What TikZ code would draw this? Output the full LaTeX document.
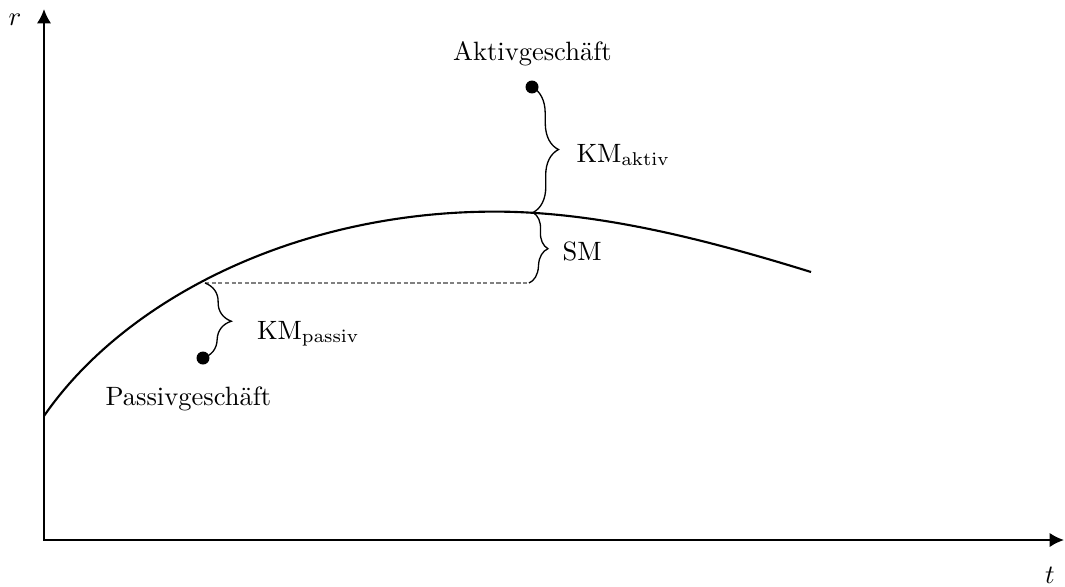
\documentclass[tikz,border=0pt]{standalone}
\usetikzlibrary{arrows.meta,decorations.pathreplacing}
\begin{document}
\begin{tikzpicture}[x=0.3774pt,y=-0.3774pt,
  axis/.style={line width=0.8pt,{Latex[length=5.4pt,width=5.4pt]}-{Latex[length=5.4pt,width=5.4pt]}},
  curvestyle/.style={line width=0.8pt},
  bracestyle/.style={decorate,decoration={brace,amplitude=#1},line width=0.5pt},
  dashline/.style={dashed,dash pattern=on 1.6pt off 0.9pt,line width=0.4pt,gray},
  dot/.style={circle,fill=black,inner sep=0pt,minimum size=4.9pt},
  lbl/.style={inner sep=0pt,font=\fontsize{10}{12}\selectfont}]
\useasboundingbox (0,0) rectangle (1065,586);
% axes
\coordinate (O) at (44,540);
\coordinate (ytip) at (44,9);
\coordinate (xtip) at (1064,540);
\draw[axis] (ytip) -- (O) -- (xtip);
\node[lbl] (r) at (15,20) {$r$};
\node[lbl] (t) at (1050,575) {$t$};
% curve
\coordinate (c0) at (44,416);
\coordinate (peak) at (495,211.6);
\coordinate (c1) at (811,272);
\coordinate (pP) at (205,283);
\coordinate (pA) at (533,212.5);
\draw[curvestyle] (c0) .. controls (124,300) and (295,211.6) .. (peak)
  .. controls (600,211.6) and (711,241) .. (c1);
% dashed line
\coordinate (sm) at (529,283);
\draw[dashline] (pP) -- (sm);
% dots
\node[dot] (adot) at (532,87) {};
\node[dot] (pdot) at (203,358) {};
% braces
\draw[bracestyle=9.8pt] (adot.center) -- (pA);
\draw[bracestyle=6.4pt] (pA) -- (sm);
\draw[bracestyle=10.3pt] (pP) -- (pdot.center);
% labels
\node[lbl,anchor=base west] (akt) at (452.7,60.7) {Aktivgesch\"aft};
\node[lbl,anchor=base west] (pas) at (105,405) {Passivgesch\"aft};
\node[lbl,anchor=base west] (kma) at (576,162) {$\mathrm{KM}_{\mathrm{aktiv}}$};
\node[lbl,anchor=base west] (smlbl) at (562,260) {SM};
\node[lbl,anchor=base west] (kmp) at (256.5,339) {$\mathrm{KM}_{\mathrm{passiv}}$};
\end{tikzpicture}
\end{document}
